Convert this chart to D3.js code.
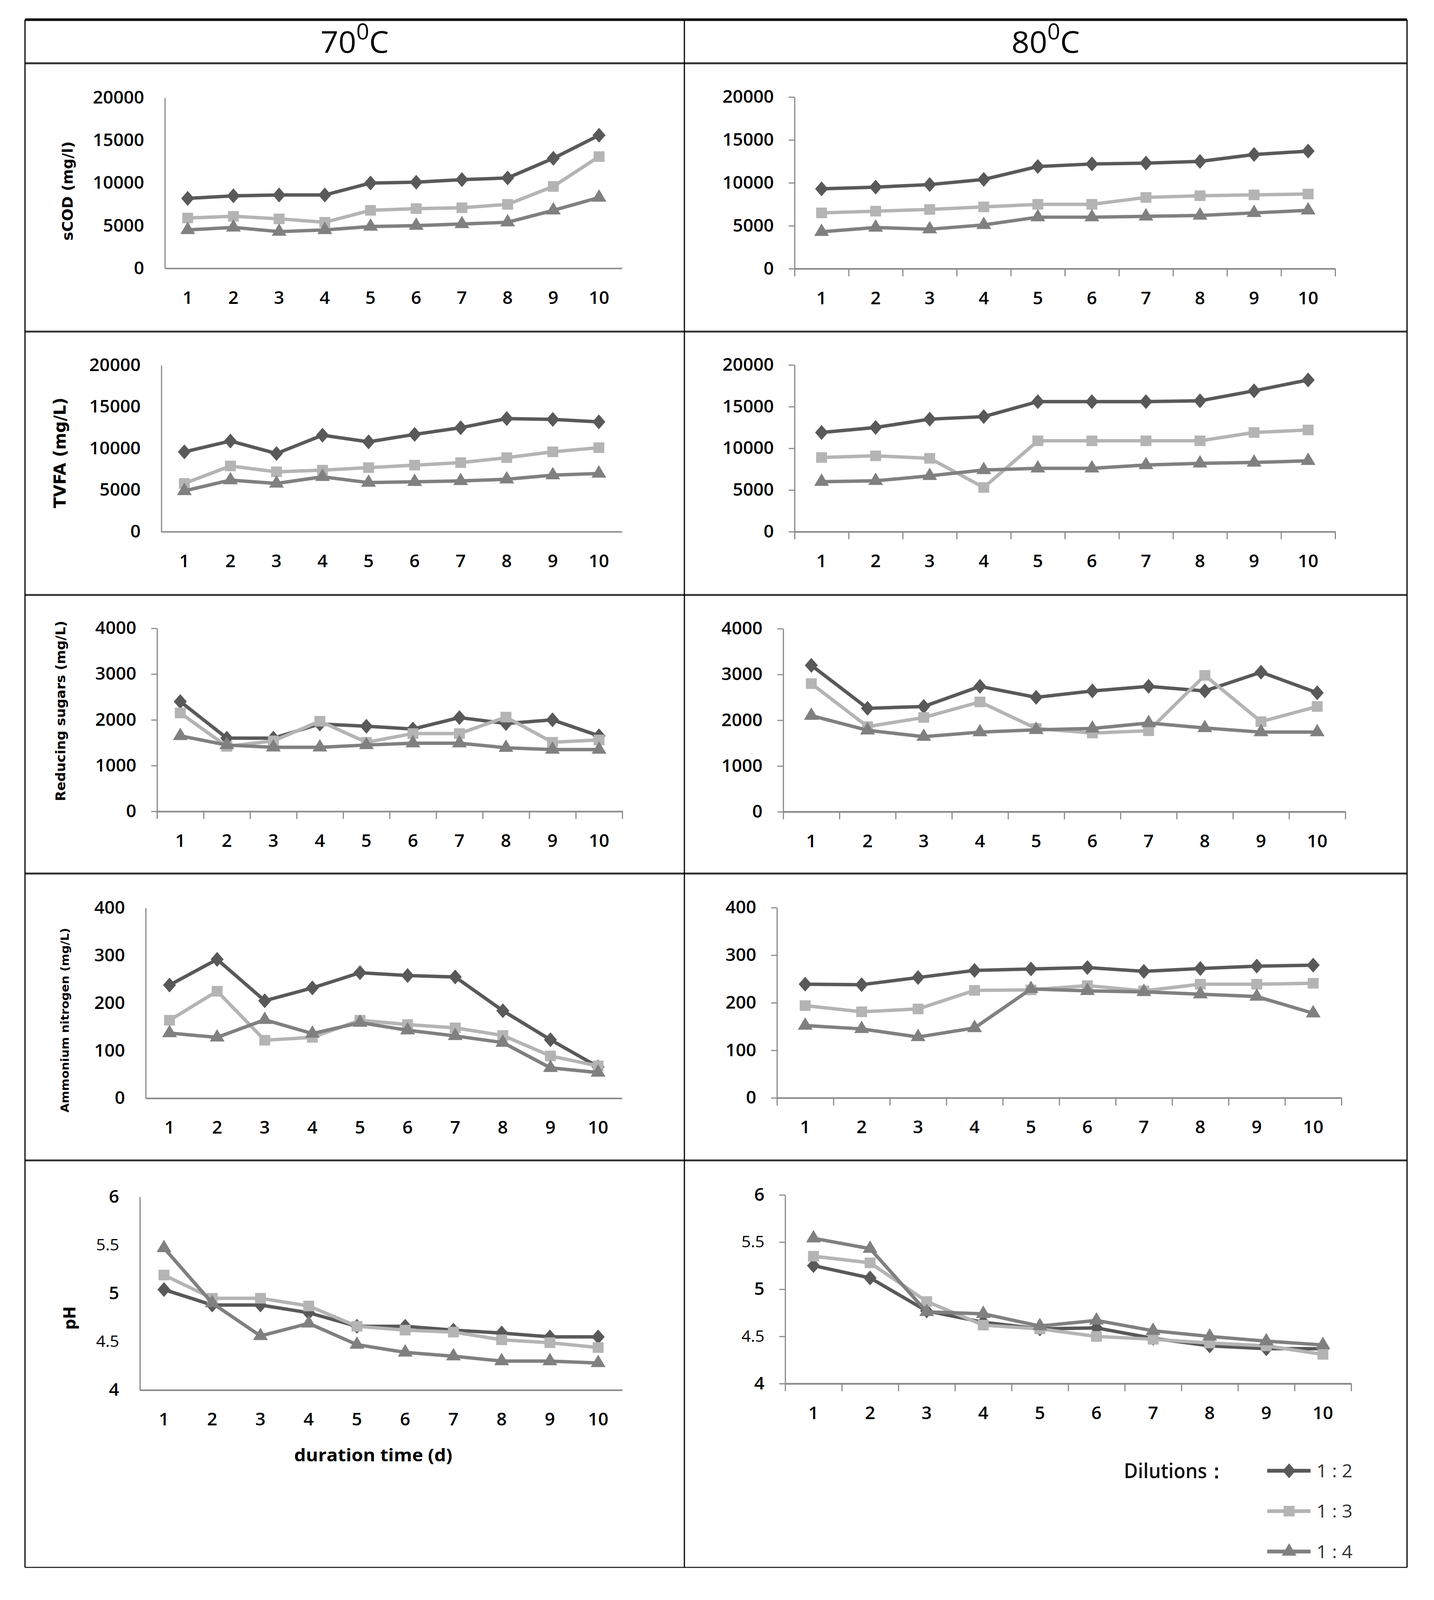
<!DOCTYPE html>
<html>
<head>
<meta charset="utf-8">
<script src="https://cdn.jsdelivr.net/npm/d3@7"></script>
<style>
    html, body { margin: 0; padding: 0; background: #fff; overflow: hidden; }
    svg { display: block; }
</style>
</head>
<body>
<svg id="fig"></svg>
<script>
(function () {
    'use strict';

    // ---- data ----
    var days = [1, 2, 3, 4, 5, 6, 7, 8, 9, 10];
    var dilutions = ['1 : 2', '1 : 3', '1 : 4'];
    var temps = ['70', '80'];

    var codTicks = [0, 5000, 10000, 15000, 20000];
    var sugarTicks = [0, 1000, 2000, 3000, 4000];
    var nitroTicks = [0, 100, 200, 300, 400];
    var phTicks = [4, 4.5, 5, 5.5, 6];

    // each: [1:2, 1:3, 1:4]
    var scod70 = [
        [8200, 8500, 8600, 8600, 10000, 10100, 10400, 10600, 12900, 15600],
        [5900, 6100, 5800, 5400, 6800, 7000, 7100, 7500, 9600, 13100],
        [4500, 4800, 4300, 4500, 4900, 5000, 5200, 5400, 6800, 8300]
    ];
    var scod80 = [
        [9300, 9500, 9800, 10400, 11900, 12200, 12300, 12500, 13300, 13700],
        [6500, 6700, 6900, 7200, 7500, 7500, 8300, 8500, 8600, 8700],
        [4300, 4800, 4600, 5100, 6000, 6000, 6100, 6200, 6500, 6800]
    ];
    var tvfa70 = [
        [9600, 10900, 9400, 11600, 10800, 11700, 12500, 13600, 13500, 13200],
        [5800, 7900, 7200, 7400, 7700, 8000, 8300, 8900, 9600, 10100],
        [4900, 6200, 5800, 6600, 5900, 6000, 6100, 6300, 6800, 7000]
    ];
    var tvfa80 = [
        [11900, 12500, 13500, 13800, 15600, 15600, 15600, 15700, 16900, 18200],
        [8900, 9100, 8800, 5300, 10900, 10900, 10900, 10900, 11900, 12200],
        [6000, 6100, 6700, 7400, 7600, 7600, 8000, 8200, 8300, 8500]
    ];
    var sugar70 = [
        [2400, 1600, 1600, 1910, 1860, 1800, 2050, 1920, 2000, 1650],
        [2150, 1420, 1540, 1970, 1510, 1700, 1700, 2060, 1510, 1560],
        [1650, 1450, 1400, 1400, 1450, 1490, 1490, 1390, 1350, 1350]
    ];
    var sugar80 = [
        [3200, 2260, 2300, 2740, 2500, 2640, 2740, 2640, 3050, 2600],
        [2800, 1860, 2060, 2400, 1820, 1720, 1770, 2980, 1970, 2300],
        [2100, 1780, 1640, 1740, 1790, 1820, 1940, 1830, 1740, 1740]
    ];
    var nitro70 = [
        [238, 292, 205, 232, 264, 258, 255, 184, 123, 66],
        [164, 225, 122, 128, 164, 155, 148, 132, 89, 68],
        [137, 128, 165, 136, 159, 143, 131, 117, 64, 54]
    ];
    var nitro80 = [
        [239, 238, 253, 268, 271, 274, 266, 272, 277, 279],
        [194, 181, 187, 226, 227, 236, 225, 239, 239, 241],
        [152, 145, 128, 147, 229, 225, 223, 218, 213, 178]
    ];
    var ph70 = [
        [5.04, 4.88, 4.88, 4.80, 4.66, 4.66, 4.62, 4.59, 4.55, 4.55],
        [5.19, 4.95, 4.95, 4.87, 4.66, 4.62, 4.60, 4.52, 4.49, 4.44],
        [5.47, 4.90, 4.56, 4.69, 4.47, 4.39, 4.35, 4.30, 4.30, 4.28]
    ];
    var ph80 = [
        [5.25, 5.12, 4.77, 4.65, 4.58, 4.59, 4.48, 4.40, 4.37, 4.37],
        [5.35, 5.28, 4.87, 4.62, 4.58, 4.50, 4.47, 4.43, 4.40, 4.31],
        [5.54, 5.43, 4.76, 4.74, 4.61, 4.67, 4.56, 4.50, 4.45, 4.41]
    ];

    // ---- layout ----
    var W = 3671, H = 4222;
    var colors = ['#595959', '#b4b4b4', '#808080'];
    var tickFont = '"Open Sans", "Liberation Sans", sans-serif';
    var titleFont = '"DejaVu Sans", Verdana, sans-serif';

    var colX = [64, 1752, 3602];
    var rowY = [52, 167, 875, 1570, 2305, 3062, 4136];

    var panels = [
        {data: scod70, ticks: codTicks, box: [422, 1592, 258, 708], marks: false,
            title: 'sCOD (mg/l)', tpos: [172, 504], tsize: 38, tlen: 262},
        {data: scod80, ticks: codTicks, box: [2034, 3418, 256, 709], marks: true},
        {data: tvfa70, ticks: codTicks, box: [413, 1592, 964, 1403], marks: false,
            title: 'TVFA (mg/L)', tpos: [153, 1195], tsize: 42, tlen: 292},
        {data: tvfa80, ticks: codTicks, box: [2034, 3418, 963, 1403], marks: true},
        {data: sugar70, ticks: sugarTicks, box: [402, 1593, 1658, 2141], marks: true,
            title: 'Reducing sugars (mg/L)', tpos: [155, 1876], tsize: 34, tlen: 476},
        {data: sugar80, ticks: sugarTicks, box: [2005, 3444, 1659, 2142], marks: true},
        {data: nitro70, ticks: nitroTicks, box: [373, 1592, 2396, 2898], marks: false,
            title: 'Ammonium nitrogen  (mg/L)', tpos: [166, 2692], tsize: 29, tlen: 487},
        {data: nitro80, ticks: nitroTicks, box: [1989, 3434, 2395, 2897], marks: true},
        {data: ph70, ticks: phTicks, box: [358, 1593, 3158, 3668], marks: false, ph: true,
            title: 'pH', tpos: [178, 3478], tsize: 42, tlen: 62, xtitle: 'duration time (d)'},
        {data: ph80, ticks: phTicks, box: [2010, 3459, 3153, 3651], marks: true, ph: true}
    ];

    // fit the whole figure into the visible window
    var svg = d3.select('#fig')
        .attr('width', window.innerWidth || W)
        .attr('height', window.innerHeight || H)
        .attr('viewBox', '0 0 ' + W + ' ' + H)
        .attr('preserveAspectRatio', 'none');

    // ---- table grid ----
    var grid = svg.append('g');
    rowY.forEach(function (yy, i) {
        grid.append('line')
            .attr('x1', colX[0]).attr('x2', colX[2])
            .attr('y1', yy).attr('y2', yy)
            .attr('stroke', i === 0 ? '#111' : '#333')
            .attr('stroke-width', i === 0 ? 7 : (i === rowY.length - 1 ? 3 : 5));
    });
    colX.forEach(function (xx) {
        grid.append('line')
            .attr('x1', xx).attr('x2', xx)
            .attr('y1', rowY[0]).attr('y2', rowY[rowY.length - 1])
            .attr('stroke', '#000').attr('stroke-width', 3);
    });

    // header 70°C / 80°C
    temps.forEach(function (t, i) {
        var txt = svg.append('text')
            .attr('x', (colX[i] + colX[i + 1]) / 2)
            .attr('y', 139)
            .attr('text-anchor', 'middle')
            .attr('font-family', tickFont)
            .attr('font-size', 80)
            .attr('fill', '#000');
        txt.append('tspan').text(t);
        txt.append('tspan').attr('font-size', 58).attr('dy', -35).text('0');
        txt.append('tspan').attr('dy', 35).text('C');
    });

    // ---- marker shapes ----
    var diamond = {
        draw: function (ctx, size) {
            var h = Math.sqrt(size) * 0.62, w = h * 0.85;
            ctx.moveTo(0, -h);
            ctx.lineTo(w, 0);
            ctx.lineTo(0, h);
            ctx.lineTo(-w, 0);
            ctx.closePath();
        }
    };
    var symbols = [
        d3.symbol().type(diamond).size(1000),
        d3.symbol().type(d3.symbolSquare).size(780),
        d3.symbol().type(d3.symbolTriangle).size(620)
    ];

    function styleAxis(sel) {
        sel.select('.domain').attr('stroke', '#8a8a8a').attr('stroke-width', 4);
        sel.selectAll('.tick line').attr('stroke', '#8a8a8a').attr('stroke-width', 3);
        sel.selectAll('text')
            .attr('font-family', tickFont)
            .attr('font-size', 46)
            .attr('font-weight', 600)
            .attr('fill', '#000');
    }

    function drawPanel(p) {
        var x0 = p.box[0], x1 = p.box[1], y0 = p.box[2], y1 = p.box[3];
        var x = d3.scaleBand().domain(days).range([x0, x1]);
        var xEdge = d3.scaleLinear().domain([0, days.length]).range([x0, x1]);
        var y = d3.scaleLinear().domain(d3.extent(p.ticks)).range([y1, y0]);
        var g = svg.append('g');

        // y axis
        var ya = g.append('g')
            .attr('transform', 'translate(' + x0 + ',0)')
            .call(d3.axisLeft(y)
                .tickValues(p.ticks)
                .tickSize(p.marks ? 15 : 0)
                .tickSizeOuter(0)
                .tickPadding(p.marks ? 38 : 53)
                .tickFormat(d3.format('')));
        styleAxis(ya);
        ya.select('.domain').attr('stroke-width', 3);
        if (p.ph) {
            ya.selectAll('.tick text')
                .filter(function (d) { return d % 1 !== 0; })
                .attr('font-weight', 400)
                .attr('font-size', 42);
        }

        // x tick marks on category edges
        if (p.marks) {
            var xm = g.append('g')
                .attr('transform', 'translate(0,' + y1 + ')')
                .call(d3.axisBottom(xEdge)
                    .tickValues(d3.range(days.length + 1))
                    .tickSize(20)
                    .tickSizeOuter(0)
                    .tickFormat(''));
            styleAxis(xm);
        }

        // x labels
        var xa = g.append('g')
            .attr('transform', 'translate(0,' + y1 + ')')
            .call(d3.axisBottom(x).tickSize(0).tickSizeOuter(0).tickPadding(61));
        styleAxis(xa);

        // series
        var line = d3.line()
            .x(function (d, i) { return x(days[i]) + x.bandwidth() / 2; })
            .y(function (d) { return y(d); });

        p.data.forEach(function (vals, s) {
            var sg = g.append('g');
            sg.append('path')
                .datum(vals)
                .attr('d', line)
                .attr('fill', 'none')
                .attr('stroke', colors[s])
                .attr('stroke-width', 9)
                .attr('stroke-linejoin', 'round');
            sg.selectAll('path.mk')
                .data(vals)
                .enter().append('path')
                .attr('class', 'mk')
                .attr('d', symbols[s])
                .attr('fill', colors[s])
                .attr('transform', function (d, i) {
                    return 'translate(' + (x(days[i]) + x.bandwidth() / 2) + ',' + y(d) + ')';
                });
        });

        // y title
        if (p.title) {
            g.append('text')
                .attr('transform', 'translate(' + p.tpos[0] + ',' + p.tpos[1] + ') rotate(-90)')
                .attr('text-anchor', 'middle')
                .attr('dy', '0.36em')
                .attr('font-family', titleFont)
                .attr('font-weight', 'bold')
                .attr('font-size', p.tsize)
                .attr('textLength', p.tlen)
                .attr('lengthAdjust', 'spacingAndGlyphs')
                .attr('fill', '#000')
                .text(p.title);
        }
        if (p.xtitle) {
            g.append('text')
                .attr('x', (x0 + x1) / 2 - 20)
                .attr('y', 3856)
                .attr('text-anchor', 'middle')
                .attr('font-family', tickFont)
                .attr('font-weight', 'bold')
                .attr('font-size', 46)
                .attr('textLength', 405)
                .attr('lengthAdjust', 'spacingAndGlyphs')
                .attr('fill', '#000')
                .text(p.xtitle);
        }
    }

    panels.forEach(drawPanel);

    // ---- legend ----
    var leg = svg.append('g');
    leg.append('text')
        .attr('x', 2877)
        .attr('y', 3900)
        .attr('font-family', tickFont)
        .attr('font-size', 54)
        .attr('font-weight', 600)
        .attr('textLength', 262)
        .attr('lengthAdjust', 'spacingAndGlyphs')
        .attr('fill', '#111')
        .text('Dilutions：');

    var legY = d3.scalePoint().domain(dilutions).range([3881, 4094]);
    dilutions.forEach(function (name, s) {
        var yy = legY(name);
        leg.append('line')
            .attr('x1', 3244).attr('x2', 3355)
            .attr('y1', yy).attr('y2', yy)
            .attr('stroke', colors[s])
            .attr('stroke-width', 10);
        leg.append('path')
            .attr('d', symbols[s])
            .attr('fill', colors[s])
            .attr('transform', 'translate(3300,' + yy + ')');
        leg.append('text')
            .attr('x', 3370)
            .attr('y', yy)
            .attr('dy', '0.36em')
            .attr('font-family', tickFont)
            .attr('font-size', 48)
            .attr('fill', '#333')
            .text(name);
    });
}());
</script>
</body>
</html>
